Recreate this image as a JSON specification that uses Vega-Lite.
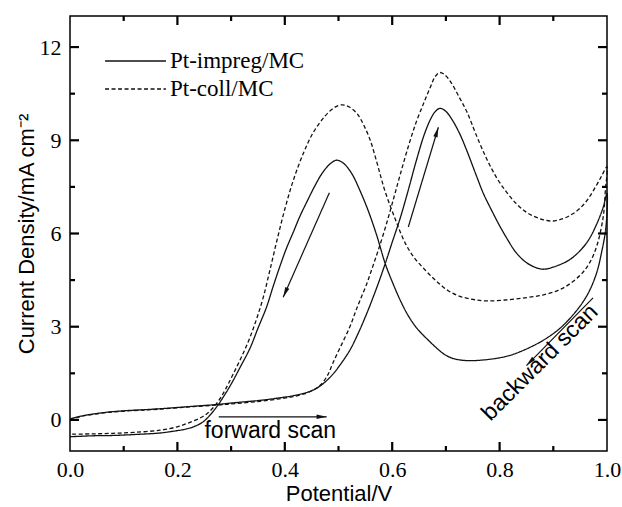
{
  "$schema": "https://vega.github.io/schema/vega-lite/v6.json",
  "width": 537,
  "height": 435,
  "autosize": {"type": "none"},
  "padding": {"left": 70, "top": 16, "right": 15, "bottom": 56},
  "background": "white",
  "config": {"view": {"stroke": "black", "strokeWidth": 1.5}, "axis": {"grid": false}},
  "datasets": {
    "curves": [
      {"s":"Pt-impreg/MC","x":0,"y":0.03},{"s":"Pt-impreg/MC","x":0.02,"y":0.12},{"s":"Pt-impreg/MC","x":0.043,"y":0.19},{"s":"Pt-impreg/MC","x":0.07,"y":0.25},{"s":"Pt-impreg/MC","x":0.106,"y":0.30},{"s":"Pt-impreg/MC","x":0.14,"y":0.33},{"s":"Pt-impreg/MC","x":0.168,"y":0.36},{"s":"Pt-impreg/MC","x":0.2,"y":0.40},{"s":"Pt-impreg/MC","x":0.23,"y":0.44},{"s":"Pt-impreg/MC","x":0.276,"y":0.50},{"s":"Pt-impreg/MC","x":0.31,"y":0.56},{"s":"Pt-impreg/MC","x":0.354,"y":0.63},{"s":"Pt-impreg/MC","x":0.39,"y":0.71},{"s":"Pt-impreg/MC","x":0.416,"y":0.78},{"s":"Pt-impreg/MC","x":0.44,"y":0.88},{"s":"Pt-impreg/MC","x":0.455,"y":0.98},{"s":"Pt-impreg/MC","x":0.468,"y":1.12},{"s":"Pt-impreg/MC","x":0.48,"y":1.30},{"s":"Pt-impreg/MC","x":0.49,"y":1.48},{"s":"Pt-impreg/MC","x":0.5,"y":1.70},{"s":"Pt-impreg/MC","x":0.521,"y":2.24},{"s":"Pt-impreg/MC","x":0.537,"y":2.80},{"s":"Pt-impreg/MC","x":0.552,"y":3.40},{"s":"Pt-impreg/MC","x":0.57,"y":4.20},{"s":"Pt-impreg/MC","x":0.587,"y":5.03},{"s":"Pt-impreg/MC","x":0.6,"y":5.72},{"s":"Pt-impreg/MC","x":0.615,"y":6.50},{"s":"Pt-impreg/MC","x":0.63,"y":7.40},{"s":"Pt-impreg/MC","x":0.645,"y":8.35},{"s":"Pt-impreg/MC","x":0.66,"y":9.20},{"s":"Pt-impreg/MC","x":0.672,"y":9.70},{"s":"Pt-impreg/MC","x":0.68,"y":9.92},{"s":"Pt-impreg/MC","x":0.689,"y":10.03},{"s":"Pt-impreg/MC","x":0.7,"y":9.93},{"s":"Pt-impreg/MC","x":0.712,"y":9.65},{"s":"Pt-impreg/MC","x":0.726,"y":9.20},{"s":"Pt-impreg/MC","x":0.74,"y":8.62},{"s":"Pt-impreg/MC","x":0.757,"y":7.85},{"s":"Pt-impreg/MC","x":0.77,"y":7.28},{"s":"Pt-impreg/MC","x":0.785,"y":6.75},{"s":"Pt-impreg/MC","x":0.8,"y":6.25},{"s":"Pt-impreg/MC","x":0.815,"y":5.80},{"s":"Pt-impreg/MC","x":0.83,"y":5.40},{"s":"Pt-impreg/MC","x":0.847,"y":5.10},{"s":"Pt-impreg/MC","x":0.865,"y":4.92},{"s":"Pt-impreg/MC","x":0.881,"y":4.85},{"s":"Pt-impreg/MC","x":0.9,"y":4.92},{"s":"Pt-impreg/MC","x":0.929,"y":5.14},{"s":"Pt-impreg/MC","x":0.95,"y":5.45},{"s":"Pt-impreg/MC","x":0.966,"y":5.80},{"s":"Pt-impreg/MC","x":0.982,"y":6.35},{"s":"Pt-impreg/MC","x":0.993,"y":6.85},{"s":"Pt-impreg/MC","x":1.0,"y":7.29},
      {"s":"Pt-impreg/MC","x":0.998,"y":6.20},{"s":"Pt-impreg/MC","x":0.99,"y":5.40},{"s":"Pt-impreg/MC","x":0.981,"y":4.75},{"s":"Pt-impreg/MC","x":0.968,"y":4.18},{"s":"Pt-impreg/MC","x":0.953,"y":3.74},{"s":"Pt-impreg/MC","x":0.93,"y":3.25},{"s":"Pt-impreg/MC","x":0.909,"y":2.90},{"s":"Pt-impreg/MC","x":0.88,"y":2.55},{"s":"Pt-impreg/MC","x":0.847,"y":2.26},{"s":"Pt-impreg/MC","x":0.82,"y":2.08},{"s":"Pt-impreg/MC","x":0.8,"y":2.00},{"s":"Pt-impreg/MC","x":0.77,"y":1.93},{"s":"Pt-impreg/MC","x":0.739,"y":1.91},{"s":"Pt-impreg/MC","x":0.715,"y":1.97},{"s":"Pt-impreg/MC","x":0.7,"y":2.08},{"s":"Pt-impreg/MC","x":0.689,"y":2.22},{"s":"Pt-impreg/MC","x":0.67,"y":2.52},{"s":"Pt-impreg/MC","x":0.646,"y":2.95},{"s":"Pt-impreg/MC","x":0.63,"y":3.35},{"s":"Pt-impreg/MC","x":0.615,"y":3.85},{"s":"Pt-impreg/MC","x":0.6,"y":4.45},{"s":"Pt-impreg/MC","x":0.587,"y":5.03},{"s":"Pt-impreg/MC","x":0.571,"y":5.95},{"s":"Pt-impreg/MC","x":0.555,"y":6.75},{"s":"Pt-impreg/MC","x":0.54,"y":7.38},{"s":"Pt-impreg/MC","x":0.525,"y":7.92},{"s":"Pt-impreg/MC","x":0.51,"y":8.25},{"s":"Pt-impreg/MC","x":0.497,"y":8.36},{"s":"Pt-impreg/MC","x":0.485,"y":8.25},{"s":"Pt-impreg/MC","x":0.47,"y":7.95},{"s":"Pt-impreg/MC","x":0.455,"y":7.50},{"s":"Pt-impreg/MC","x":0.44,"y":6.98},{"s":"Pt-impreg/MC","x":0.428,"y":6.55},{"s":"Pt-impreg/MC","x":0.416,"y":6.05},{"s":"Pt-impreg/MC","x":0.403,"y":5.52},{"s":"Pt-impreg/MC","x":0.391,"y":4.95},{"s":"Pt-impreg/MC","x":0.378,"y":4.28},{"s":"Pt-impreg/MC","x":0.366,"y":3.63},{"s":"Pt-impreg/MC","x":0.35,"y":2.95},{"s":"Pt-impreg/MC","x":0.335,"y":2.30},{"s":"Pt-impreg/MC","x":0.317,"y":1.70},{"s":"Pt-impreg/MC","x":0.3,"y":1.15},{"s":"Pt-impreg/MC","x":0.287,"y":0.78},{"s":"Pt-impreg/MC","x":0.276,"y":0.49},{"s":"Pt-impreg/MC","x":0.262,"y":0.18},{"s":"Pt-impreg/MC","x":0.248,"y":-0.06},{"s":"Pt-impreg/MC","x":0.233,"y":-0.20},{"s":"Pt-impreg/MC","x":0.217,"y":-0.29},{"s":"Pt-impreg/MC","x":0.19,"y":-0.37},{"s":"Pt-impreg/MC","x":0.168,"y":-0.42},{"s":"Pt-impreg/MC","x":0.12,"y":-0.47},{"s":"Pt-impreg/MC","x":0.08,"y":-0.50},{"s":"Pt-impreg/MC","x":0.043,"y":-0.51},{"s":"Pt-impreg/MC","x":0.015,"y":-0.53},{"s":"Pt-impreg/MC","x":0,"y":-0.54},
      {"s":"Pt-coll/MC","x":0,"y":0.00},{"s":"Pt-coll/MC","x":0.02,"y":0.11},{"s":"Pt-coll/MC","x":0.043,"y":0.18},{"s":"Pt-coll/MC","x":0.07,"y":0.24},{"s":"Pt-coll/MC","x":0.106,"y":0.29},{"s":"Pt-coll/MC","x":0.14,"y":0.32},{"s":"Pt-coll/MC","x":0.168,"y":0.35},{"s":"Pt-coll/MC","x":0.2,"y":0.39},{"s":"Pt-coll/MC","x":0.23,"y":0.43},{"s":"Pt-coll/MC","x":0.276,"y":0.48},{"s":"Pt-coll/MC","x":0.31,"y":0.53},{"s":"Pt-coll/MC","x":0.354,"y":0.60},{"s":"Pt-coll/MC","x":0.39,"y":0.68},{"s":"Pt-coll/MC","x":0.416,"y":0.75},{"s":"Pt-coll/MC","x":0.44,"y":0.86},{"s":"Pt-coll/MC","x":0.455,"y":0.98},{"s":"Pt-coll/MC","x":0.468,"y":1.15},{"s":"Pt-coll/MC","x":0.48,"y":1.45},{"s":"Pt-coll/MC","x":0.49,"y":1.85},{"s":"Pt-coll/MC","x":0.505,"y":2.40},{"s":"Pt-coll/MC","x":0.521,"y":2.99},{"s":"Pt-coll/MC","x":0.531,"y":3.45},{"s":"Pt-coll/MC","x":0.54,"y":3.85},{"s":"Pt-coll/MC","x":0.552,"y":4.35},{"s":"Pt-coll/MC","x":0.563,"y":4.90},{"s":"Pt-coll/MC","x":0.574,"y":5.46},{"s":"Pt-coll/MC","x":0.59,"y":6.35},{"s":"Pt-coll/MC","x":0.603,"y":7.15},{"s":"Pt-coll/MC","x":0.615,"y":7.90},{"s":"Pt-coll/MC","x":0.63,"y":8.80},{"s":"Pt-coll/MC","x":0.645,"y":9.60},{"s":"Pt-coll/MC","x":0.66,"y":10.25},{"s":"Pt-coll/MC","x":0.672,"y":10.75},{"s":"Pt-coll/MC","x":0.68,"y":11.05},{"s":"Pt-coll/MC","x":0.688,"y":11.18},{"s":"Pt-coll/MC","x":0.697,"y":11.12},{"s":"Pt-coll/MC","x":0.71,"y":10.85},{"s":"Pt-coll/MC","x":0.725,"y":10.38},{"s":"Pt-coll/MC","x":0.739,"y":9.92},{"s":"Pt-coll/MC","x":0.757,"y":9.15},{"s":"Pt-coll/MC","x":0.776,"y":8.40},{"s":"Pt-coll/MC","x":0.795,"y":7.78},{"s":"Pt-coll/MC","x":0.813,"y":7.33},{"s":"Pt-coll/MC","x":0.83,"y":6.98},{"s":"Pt-coll/MC","x":0.847,"y":6.72},{"s":"Pt-coll/MC","x":0.863,"y":6.56},{"s":"Pt-coll/MC","x":0.88,"y":6.45},{"s":"Pt-coll/MC","x":0.897,"y":6.40},{"s":"Pt-coll/MC","x":0.915,"y":6.46},{"s":"Pt-coll/MC","x":0.93,"y":6.57},{"s":"Pt-coll/MC","x":0.947,"y":6.77},{"s":"Pt-coll/MC","x":0.963,"y":7.07},{"s":"Pt-coll/MC","x":0.978,"y":7.48},{"s":"Pt-coll/MC","x":0.99,"y":7.85},{"s":"Pt-coll/MC","x":1.0,"y":8.15},
      {"s":"Pt-coll/MC","x":0.997,"y":7.40},{"s":"Pt-coll/MC","x":0.993,"y":6.54},{"s":"Pt-coll/MC","x":0.981,"y":5.60},{"s":"Pt-coll/MC","x":0.968,"y":5.07},{"s":"Pt-coll/MC","x":0.953,"y":4.71},{"s":"Pt-coll/MC","x":0.93,"y":4.37},{"s":"Pt-coll/MC","x":0.909,"y":4.17},{"s":"Pt-coll/MC","x":0.88,"y":4.02},{"s":"Pt-coll/MC","x":0.847,"y":3.93},{"s":"Pt-coll/MC","x":0.81,"y":3.86},{"s":"Pt-coll/MC","x":0.776,"y":3.83},{"s":"Pt-coll/MC","x":0.75,"y":3.88},{"s":"Pt-coll/MC","x":0.726,"y":3.98},{"s":"Pt-coll/MC","x":0.705,"y":4.15},{"s":"Pt-coll/MC","x":0.69,"y":4.35},{"s":"Pt-coll/MC","x":0.677,"y":4.55},{"s":"Pt-coll/MC","x":0.66,"y":4.85},{"s":"Pt-coll/MC","x":0.642,"y":5.20},{"s":"Pt-coll/MC","x":0.627,"y":5.60},{"s":"Pt-coll/MC","x":0.615,"y":6.05},{"s":"Pt-coll/MC","x":0.606,"y":6.45},{"s":"Pt-coll/MC","x":0.596,"y":6.90},{"s":"Pt-coll/MC","x":0.585,"y":7.45},{"s":"Pt-coll/MC","x":0.577,"y":7.94},{"s":"Pt-coll/MC","x":0.568,"y":8.50},{"s":"Pt-coll/MC","x":0.559,"y":9.01},{"s":"Pt-coll/MC","x":0.548,"y":9.45},{"s":"Pt-coll/MC","x":0.535,"y":9.85},{"s":"Pt-coll/MC","x":0.52,"y":10.07},{"s":"Pt-coll/MC","x":0.506,"y":10.14},{"s":"Pt-coll/MC","x":0.492,"y":10.05},{"s":"Pt-coll/MC","x":0.475,"y":9.78},{"s":"Pt-coll/MC","x":0.453,"y":9.25},{"s":"Pt-coll/MC","x":0.435,"y":8.60},{"s":"Pt-coll/MC","x":0.416,"y":7.72},{"s":"Pt-coll/MC","x":0.4,"y":6.78},{"s":"Pt-coll/MC","x":0.385,"y":5.75},{"s":"Pt-coll/MC","x":0.372,"y":4.80},{"s":"Pt-coll/MC","x":0.36,"y":3.95},{"s":"Pt-coll/MC","x":0.348,"y":3.28},{"s":"Pt-coll/MC","x":0.335,"y":2.65},{"s":"Pt-coll/MC","x":0.32,"y":2.05},{"s":"Pt-coll/MC","x":0.304,"y":1.48},{"s":"Pt-coll/MC","x":0.29,"y":1.00},{"s":"Pt-coll/MC","x":0.28,"y":0.70},{"s":"Pt-coll/MC","x":0.267,"y":0.40},{"s":"Pt-coll/MC","x":0.255,"y":0.20},{"s":"Pt-coll/MC","x":0.242,"y":0.06},{"s":"Pt-coll/MC","x":0.22,"y":-0.10},{"s":"Pt-coll/MC","x":0.2,"y":-0.22},{"s":"Pt-coll/MC","x":0.168,"y":-0.33},{"s":"Pt-coll/MC","x":0.12,"y":-0.40},{"s":"Pt-coll/MC","x":0.08,"y":-0.43},{"s":"Pt-coll/MC","x":0.04,"y":-0.45},{"s":"Pt-coll/MC","x":0,"y":-0.46}
    ],
    "arrows": [
      {"x":0.483,"y":7.31,"x2":0.397,"y2":3.95},
      {"x":0.630,"y":6.21,"x2":0.686,"y2":9.42},
      {"x":0.277,"y":0.10,"x2":0.478,"y2":0.10},
      {"x":0.974,"y":3.93,"x2":0.850,"y2":1.75}
    ],
    "xmajor": [{"v":0.2},{"v":0.4},{"v":0.6},{"v":0.8}],
    "xminor": [{"v":0.1},{"v":0.3},{"v":0.5},{"v":0.7},{"v":0.9}],
    "ymajor": [{"v":0},{"v":3},{"v":6},{"v":9},{"v":12}],
    "yminor": [{"v":1.5},{"v":4.5},{"v":7.5},{"v":10.5}]
  },
  "layer": [
    {
      "data": {"name": "curves"},
      "mark": {"type": "line", "interpolate": "catmull-rom", "strokeWidth": 1.3, "color": "#111"},
      "encoding": {
        "x": {"field": "x", "type": "quantitative", "scale": {"domain": [0, 1], "nice": false, "zero": false},
          "axis": {"orient": "bottom", "values": [0, 0.2, 0.4, 0.6, 0.8, 1], "format": ".1f", "ticks": false, "domain": false, "labelFlush": false,
            "labelFont": "Liberation Serif", "labelFontSize": 22, "labelColor": "black", "labelPadding": 8,
            "title": "Potential/V", "titleFont": "Liberation Sans", "titleFontSize": 22, "titleFontWeight": "normal", "titleColor": "black", "titlePadding": 3}},
        "y": {"field": "y", "type": "quantitative", "scale": {"domain": [-1, 13], "nice": false, "zero": false},
          "axis": {"orient": "left", "values": [0, 3, 6, 9, 12], "format": "d", "ticks": false, "domain": false,
            "labelFont": "Liberation Serif", "labelFontSize": 22, "labelColor": "black", "labelPadding": 9,
            "title": "Current Density/mA cm⁻²", "titleFont": "Liberation Sans", "titleFontSize": 22, "titleFontWeight": "normal", "titleColor": "black", "titlePadding": 1}},
        "strokeDash": {"field": "s", "type": "nominal",
          "scale": {"domain": ["Pt-impreg/MC", "Pt-coll/MC"], "range": [[1, 0], [4, 2.5]]},
          "legend": {"title": null, "orient": "none", "legendX": 54, "legendY": 33.5, "padding": 0,
            "symbolType": "M-8,0H8", "symbolSize": 58, "symbolStrokeWidth": 1.3, "symbolStrokeColor": "#111",
            "labelFont": "Liberation Serif", "labelFontSize": 23, "labelColor": "black", "labelOffset": 23, "rowPadding": 4}},
        "order": {"value": null}
      }
    },
    {
      "data": {"name": "xmajor"},
      "mark": {"type": "rule", "strokeWidth": 2.2, "color": "black"},
      "encoding": {"x": {"field": "v", "type": "quantitative"}, "y": {"datum": -1}, "y2": {"datum": -0.71}}
    },
    {
      "data": {"name": "xmajor"},
      "mark": {"type": "rule", "strokeWidth": 2.2, "color": "black"},
      "encoding": {"x": {"field": "v", "type": "quantitative"}, "y": {"datum": 13}, "y2": {"datum": 12.71}}
    },
    {
      "data": {"name": "xminor"},
      "mark": {"type": "rule", "strokeWidth": 2.2, "color": "black"},
      "encoding": {"x": {"field": "v", "type": "quantitative"}, "y": {"datum": -1}, "y2": {"datum": -0.84}}
    },
    {
      "data": {"name": "xminor"},
      "mark": {"type": "rule", "strokeWidth": 2.2, "color": "black"},
      "encoding": {"x": {"field": "v", "type": "quantitative"}, "y": {"datum": 13}, "y2": {"datum": 12.84}}
    },
    {
      "data": {"name": "ymajor"},
      "mark": {"type": "rule", "strokeWidth": 2.2, "color": "black"},
      "encoding": {"y": {"field": "v", "type": "quantitative"}, "x": {"datum": 0}, "x2": {"datum": 0.0168}}
    },
    {
      "data": {"name": "ymajor"},
      "mark": {"type": "rule", "strokeWidth": 2.2, "color": "black"},
      "encoding": {"y": {"field": "v", "type": "quantitative"}, "x": {"datum": 1}, "x2": {"datum": 0.9832}}
    },
    {
      "data": {"name": "yminor"},
      "mark": {"type": "rule", "strokeWidth": 2.2, "color": "black"},
      "encoding": {"y": {"field": "v", "type": "quantitative"}, "x": {"datum": 0}, "x2": {"datum": 0.0093}}
    },
    {
      "data": {"name": "yminor"},
      "mark": {"type": "rule", "strokeWidth": 2.2, "color": "black"},
      "encoding": {"y": {"field": "v", "type": "quantitative"}, "x": {"datum": 1}, "x2": {"datum": 0.9907}}
    },
    {
      "data": {"name": "arrows"},
      "mark": {"type": "rule", "strokeWidth": 1.2, "color": "#111"},
      "encoding": {
        "x": {"field": "x", "type": "quantitative"},
        "y": {"field": "y", "type": "quantitative"},
        "x2": {"field": "x2"},
        "y2": {"field": "y2"}
      }
    },
    {
      "data": {"values": [{"x": 0.397, "y": 3.95}]},
      "mark": {"type": "point", "shape": "M0,0L0.35,1.6L-0.35,1.6Z", "filled": true, "color": "#111", "opacity": 1, "size": 160, "angle": 204},
      "encoding": {"x": {"field": "x", "type": "quantitative"}, "y": {"field": "y", "type": "quantitative"}}
    },
    {
      "data": {"values": [{"x": 0.686, "y": 9.42}]},
      "mark": {"type": "point", "shape": "M0,0L0.35,1.6L-0.35,1.6Z", "filled": true, "color": "#111", "opacity": 1, "size": 160, "angle": 17},
      "encoding": {"x": {"field": "x", "type": "quantitative"}, "y": {"field": "y", "type": "quantitative"}}
    },
    {
      "data": {"values": [{"x": 0.478, "y": 0.10}]},
      "mark": {"type": "point", "shape": "M0,0L0.35,1.6L-0.35,1.6Z", "filled": true, "color": "#111", "opacity": 1, "size": 160, "angle": 90},
      "encoding": {"x": {"field": "x", "type": "quantitative"}, "y": {"field": "y", "type": "quantitative"}}
    },
    {
      "data": {"values": [{"x": 0.850, "y": 1.75}]},
      "mark": {"type": "point", "shape": "M0,0L0.35,1.6L-0.35,1.6Z", "filled": true, "color": "#111", "opacity": 1, "size": 160, "angle": 225},
      "encoding": {"x": {"field": "x", "type": "quantitative"}, "y": {"field": "y", "type": "quantitative"}}
    },
    {
      "data": {"values": [{"x": 0.373, "y": -0.58, "label": "forward scan"}]},
      "mark": {"type": "text", "font": "Liberation Sans", "fontSize": 23, "align": "center", "baseline": "alphabetic", "color": "black"},
      "encoding": {"x": {"field": "x", "type": "quantitative"}, "y": {"field": "y", "type": "quantitative"}, "text": {"field": "label"}}
    },
    {
      "data": {"values": [{"x": 0.875, "y": 1.85, "label": "backward scan"}]},
      "mark": {"type": "text", "font": "Liberation Sans", "fontSize": 23, "align": "center", "baseline": "middle", "angle": 315, "color": "black"},
      "encoding": {"x": {"field": "x", "type": "quantitative"}, "y": {"field": "y", "type": "quantitative"}, "text": {"field": "label"}}
    }
  ]
}
